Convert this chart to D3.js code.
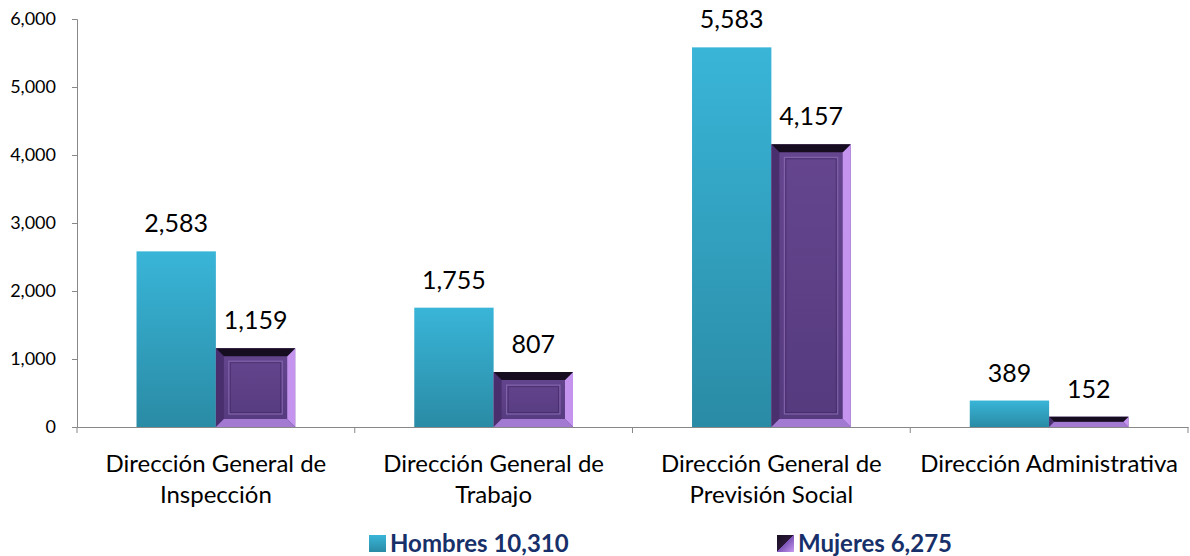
<!DOCTYPE html>
<html lang="es">
<head>
<meta charset="UTF-8">
<title>Hombres y Mujeres por Dirección</title>
<script src="https://d3js.org/d3.v7.min.js"></script>
<style>
  body { margin: 0; padding: 0; background: #fff; }
  svg text { font-family: Lato, "Open Sans", sans-serif; }
</style>
</head>
<body>
<div id="chart"></div>
<script>
  // data
  const categories = [
    ["Dirección General de", "Inspección"],
    ["Dirección General de", "Trabajo"],
    ["Dirección General de", "Previsión Social"],
    ["Dirección Administrativa"]
  ];
  const hombres = [2583, 1755, 5583, 389];
  const mujeres = [1159, 807, 4157, 152];
  const legendLabels = ["Hombres 10,310", "Mujeres 6,275"];
  const yTicks = [0, 1000, 2000, 3000, 4000, 5000, 6000];

  const width = 1190, height = 556;
  const margin = { top: 19, right: 2, bottom: 129, left: 77 };

  const svg = d3.select("#chart").append("svg")
    .attr("width", width)
    .attr("height", height);

  const defs = svg.append("defs");
  const gH = defs.append("linearGradient").attr("id", "gradH")
    .attr("x1", 0).attr("y1", 0).attr("x2", 0).attr("y2", 1);
  gH.append("stop").attr("offset", "0%").attr("stop-color", "#39b5d8");
  gH.append("stop").attr("offset", "100%").attr("stop-color", "#2a8ba5");

  const gM = defs.append("linearGradient").attr("id", "gradM")
    .attr("x1", 0).attr("y1", 0).attr("x2", 0).attr("y2", 1);
  gM.append("stop").attr("offset", "0%").attr("stop-color", "#65468f");
  gM.append("stop").attr("offset", "100%").attr("stop-color", "#553a7e");

  const gL = defs.append("linearGradient").attr("id", "gradL")
    .attr("x1", 0).attr("y1", 0).attr("x2", 1).attr("y2", 1);
  gL.append("stop").attr("offset", "0%").attr("stop-color", "#1a0f22");
  gL.append("stop").attr("offset", "50%").attr("stop-color", "#2a1838");
  gL.append("stop").attr("offset", "50%").attr("stop-color", "#7d55b8");
  gL.append("stop").attr("offset", "100%").attr("stop-color", "#c99af2");

  const x = d3.scaleBand()
    .domain(d3.range(categories.length))
    .range([margin.left, width - margin.right])
    .paddingInner(0).paddingOuter(0);

  const xSub = d3.scaleBand()
    .domain([0, 1])
    .range([0, x.bandwidth()])
    .paddingInner(0)
    .paddingOuter(0.75);

  const y = d3.scaleLinear()
    .domain([0, 6000])
    .range([height - margin.bottom, margin.top]);

  // axes
  const yAxis = svg.append("g")
    .attr("transform", `translate(${margin.left},0)`)
    .call(d3.axisLeft(y).tickValues(yTicks).tickFormat(d3.format(",")).tickSize(5));
  yAxis.select(".domain").attr("stroke", "#888");
  yAxis.selectAll(".tick line").attr("stroke", "#888");
  yAxis.selectAll(".tick text")
    .attr("fill", "#000").attr("font-size", 18).attr("x", -21);

  const xAxis = svg.append("g")
    .attr("transform", `translate(0,${y(0)})`)
    .call(d3.axisBottom(x).tickValues([]).tickSizeOuter(0));
  xAxis.select(".domain").attr("stroke", "#888");
  // category boundary ticks
  const bounds = d3.range(categories.length + 1)
    .map(i => i < categories.length ? x(i) : x(i - 1) + x.bandwidth());
  xAxis.selectAll("line.bound").data(bounds).enter().append("line")
    .attr("class", "bound")
    .attr("x1", d => d).attr("x2", d => d)
    .attr("y1", 0).attr("y2", 6)
    .attr("stroke", "#888");

  // category labels
  categories.forEach((lines, i) => {
    const t = svg.append("text")
      .attr("x", x(i) + x.bandwidth() / 2)
      .attr("y", y(0) + 45)
      .attr("text-anchor", "middle")
      .attr("font-size", 24)
      .attr("fill", "#000");
    lines.forEach((l, j) => {
      t.append("tspan")
        .attr("x", x(i) + x.bandwidth() / 2)
        .attr("dy", j === 0 ? 0 : 31)
        .text(l);
    });
  });

  // Hombres bars
  svg.append("g").selectAll("rect")
    .data(hombres).enter().append("rect")
    .attr("x", (d, i) => x(i) + xSub(0))
    .attr("y", d => y(d))
    .attr("width", xSub.bandwidth())
    .attr("height", d => y(0) - y(d))
    .attr("fill", "url(#gradH)");

  // Mujeres bars with bevel
  const gMuj = svg.append("g");
  function bevelBar(g, bx, by, bw, bh) {
    const b = Math.min(8, bh / 2);
    g.append("rect").attr("x", bx).attr("y", by).attr("width", bw).attr("height", bh)
      .attr("fill", "url(#gradM)");
    const poly = (pts, fill) => g.append("polygon")
      .attr("points", pts.map(p => p.join(",")).join(" "))
      .attr("fill", fill);
    poly([[bx, by], [bx, by + bh], [bx + b, by + bh - b], [bx + b, by + b]], "#4a2f6e");
    poly([[bx + bw, by], [bx + bw, by + bh], [bx + bw - b, by + bh - b], [bx + bw - b, by + b]], "#c594ee");
    poly([[bx, by + bh], [bx + bw, by + bh], [bx + bw - b, by + bh - b], [bx + b, by + bh - b]], "#a27ad2");
    poly([[bx, by], [bx + bw, by], [bx + bw - b, by + b], [bx + b, by + b]], "#170d20");
    if (bh > 30) {
      const inset = b + 5;
      g.append("rect")
        .attr("x", bx + inset).attr("y", by + inset)
        .attr("width", bw - 2 * inset).attr("height", bh - 2 * inset)
        .attr("fill", "none")
        .attr("stroke", "#8a6cb4").attr("stroke-width", 1.2).attr("opacity", 0.8);
      g.append("rect")
        .attr("x", bx + inset + 1.5).attr("y", by + inset + 1.5)
        .attr("width", bw - 2 * inset - 3).attr("height", bh - 2 * inset - 3)
        .attr("fill", "none")
        .attr("stroke", "#3f2760").attr("stroke-width", 1).attr("opacity", 0.6);
    }
  }
  mujeres.forEach((d, i) => {
    bevelBar(gMuj, x(i) + xSub(1), y(d), xSub.bandwidth(), y(0) - y(d));
  });

  // value labels
  const fmt = d3.format(",");
  const labels = svg.append("g");
  [hombres, mujeres].forEach((series, s) => {
    labels.selectAll(null).data(series).enter().append("text")
      .attr("x", (d, i) => x(i) + xSub(s) + xSub.bandwidth() / 2)
      .attr("y", d => y(d) - 19)
      .attr("text-anchor", "middle")
      .attr("font-size", 25)
      .attr("fill", "#000")
      .text(d => fmt(d));
  });

  // legend
  const legendX = [369, 777];
  const legend = svg.append("g");
  legendLabels.forEach((lab, i) => {
    const lg = legend.append("g").attr("transform", `translate(${legendX[i]},535)`);
    lg.append("rect").attr("width", 17).attr("height", 17)
      .attr("fill", i === 0 ? "url(#gradH)" : "url(#gradL)");
    lg.append("text")
      .attr("x", 21).attr("y", 17)
      .attr("font-size", 24).attr("font-weight", "bold")
      .attr("fill", "#17306a")
      .text(lab);
  });
</script>
</body>
</html>
